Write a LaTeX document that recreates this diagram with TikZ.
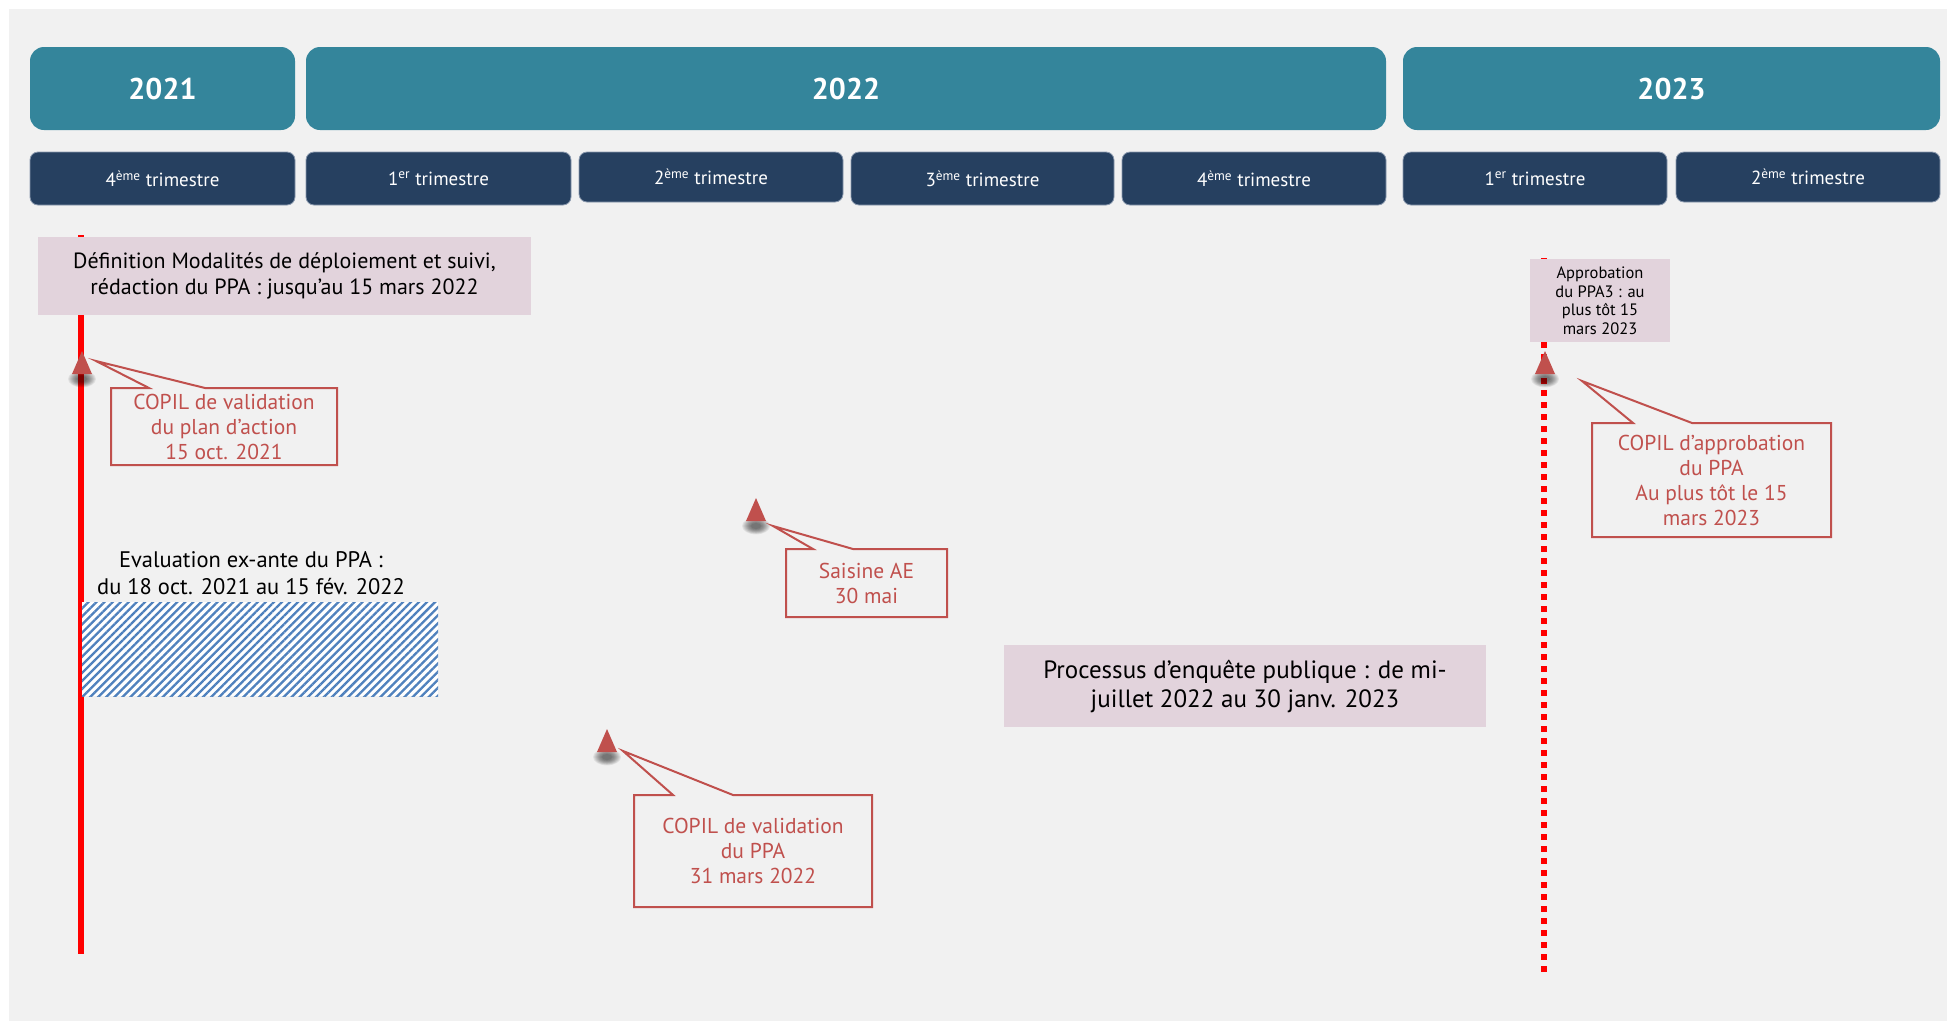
\documentclass[tikz,border=0pt]{standalone}
\usepackage{fontspec}
\setmainfont{PT Sans}
\usetikzlibrary{patterns.meta}

\definecolor{bg}{HTML}{F1F1F1}
\definecolor{yearteal}{HTML}{34859B}
\definecolor{qnavy}{HTML}{264060}
\definecolor{qedge}{HTML}{8A99AE}
\definecolor{phasepink}{HTML}{E2D3DC}
\definecolor{copilred}{HTML}{C0504D}
\definecolor{hatchblue}{HTML}{4F81BD}
\definecolor{linered}{HTML}{FF0000}

\tikzset{
  yearbox/.style={fill=yearteal, rounded corners=14pt, minimum height=83pt,
    inner sep=0pt, outer sep=0pt, text=white, font=\bfseries\fontsize{30}{36}\selectfont},
  qbox/.style={fill=qnavy, draw=qedge, line width=0.8pt, rounded corners=8pt,
    minimum height=53pt, inner sep=0pt, outer sep=0pt, text=white,
    font=\fontsize{19}{22}\selectfont},
  phase/.style={fill=phasepink, align=center, text=black, inner sep=0pt, outer sep=0pt},
  callout/.style={fill=bg, align=center, text=copilred, inner sep=0pt, outer sep=0pt,
    font=\fontsize{21.5}{25}\selectfont},
  calloutline/.style={draw=copilred, line width=2pt, line join=miter},
  marker/.style={fill=copilred},
  markershadow/.style={fill=black, opacity=0.065},
  solidline/.style={draw=linered, line width=6pt},
  dotline/.style={draw=linered, line width=6pt, dash pattern=on 6pt off 6pt},
  hatch/.style={preaction={fill=white},
    pattern={Lines[angle=45, distance=5.7pt, line width=2.3pt]},
    pattern color=hatchblue, inner sep=0pt, outer sep=0pt}
}

\begin{document}
\begin{tikzpicture}[x=1pt, y=-1pt]
\useasboundingbox (0,0) rectangle (1947,1021);
\fill[white] (0,0) rectangle (1947,1021);
\fill[bg] (9,9) rectangle (1947,1021);

% years
\node[yearbox, minimum width=265pt]  (y2021) at (162.5,88.5) {2021};
\node[yearbox, minimum width=1080pt] (y2022) at (846,88.5)   {2022};
\node[yearbox, minimum width=537pt]  (y2023) at (1671.5,88.5) {2023};

% quarters
\node[qbox, minimum width=265pt] (q4a) at (162.5,178.5) {4\textsuperscript{ème} trimestre};
\node[qbox, minimum width=265pt] (q1b) at (438.5,178.5) {1\textsuperscript{er} trimestre};
\node[qbox, minimum width=264pt, minimum height=50pt] (q2b) at (711,177) {2\textsuperscript{ème} trimestre};
\node[qbox, minimum width=263pt] (q3b) at (982.5,178.5) {3\textsuperscript{ème} trimestre};
\node[qbox, minimum width=264pt] (q4b) at (1254,178.5) {4\textsuperscript{ème} trimestre};
\node[qbox, minimum width=264pt] (q1c) at (1535,178.5) {1\textsuperscript{er} trimestre};
\node[qbox, minimum width=264pt, minimum height=50pt] (q2c) at (1808,177) {2\textsuperscript{ème} trimestre};

% time lines
\coordinate (solidtop) at (81,235);
\coordinate (solidend) at (81,954);
\draw[solidline] (solidtop) -- (solidend);
\coordinate (dottop) at (1544,258);
\coordinate (dotend) at (1544,972);
\draw[dotline] (dottop) -- (dotend);

% phases
\node[phase, minimum width=493pt, minimum height=78pt, font=\fontsize{22}{26}\selectfont]
  (def) at (284.5,276) {Définition Modalités de déploiement et suivi,\\rédaction du PPA : jusqu’au 15 mars 2022};
\node[align=center, text=black, inner sep=0pt, font=\fontsize{22.5}{27}\selectfont]
  (eval) at (251,573) {Evaluation ex-ante du PPA :\\du 18 oct. 2021 au 15 fév. 2022};
\node[hatch, minimum width=356pt, minimum height=94pt] (evalbar) at (260,649) {};
\node[phase, minimum width=482pt, minimum height=82pt, font=\fontsize{25}{29}\selectfont]
  (enq) at (1245,686) {Processus d’enquête publique : de mi-\\juillet 2022 au 30 janv. 2023};
\node[phase, minimum width=140pt, minimum height=83pt, font=\fontsize{16.5}{18.5}\selectfont]
  (appr) at (1600,300.5) {Approbation\\du PPA3 : au\\plus tôt 15\\mars 2023};

% milestone markers with a soft shadow under the base
\coordinate (m1) at (82,374);
\coordinate (m2) at (756,521);
\coordinate (m3) at (607,752);
\coordinate (m4) at (1545,374);
\foreach \m in {m1,m2,m3,m4}{
  \foreach \r in {5,6,...,14}
    \fill[markershadow] ([yshift=-5pt]\m) ellipse[x radius=\r pt, y radius=0.6*\r pt];
  \fill[marker] ([xshift=-10pt]\m) -- ([yshift=23pt]\m) -- ([xshift=10pt]\m) -- cycle;
}

% callouts
\node[callout, minimum width=226pt, minimum height=77pt] (c1) at (224,426.5)
  {COPIL de validation\\du plan d’action\\15 oct. 2021};
\coordinate (c1tip) at (96,361);
\draw[calloutline] (c1.north west) -- ([xshift=38pt]c1.north west) -- (c1tip)
  -- ([xshift=94pt]c1.north west) -- (c1.north east) -- (c1.south east) -- (c1.south west) -- cycle;

\node[callout, minimum width=161pt, minimum height=68pt] (c2) at (866.5,583)
  {Saisine AE\\30 mai};
\coordinate (c2tip) at (773,526);
\draw[calloutline] (c2.north west) -- ([xshift=27pt]c2.north west) -- (c2tip)
  -- ([xshift=67pt]c2.north west) -- (c2.north east) -- (c2.south east) -- (c2.south west) -- cycle;

\node[callout, minimum width=238pt, minimum height=112pt] (c3) at (753,851)
  {COPIL de validation\\du PPA\\31 mars 2022};
\coordinate (c3tip) at (623,751);
\draw[calloutline] (c3.north west) -- ([xshift=39pt]c3.north west) -- (c3tip)
  -- ([xshift=99pt]c3.north west) -- (c3.north east) -- (c3.south east) -- (c3.south west) -- cycle;

\node[callout, minimum width=239pt, minimum height=114pt] (c4) at (1711.5,480)
  {COPIL d’approbation\\du PPA\\Au plus tôt le 15\\mars 2023};
\coordinate (c4tip) at (1582,381);
\draw[calloutline] (c4.north west) -- ([xshift=41pt]c4.north west) -- (c4tip)
  -- ([xshift=100pt]c4.north west) -- (c4.north east) -- (c4.south east) -- (c4.south west) -- cycle;
\end{tikzpicture}
\end{document}
